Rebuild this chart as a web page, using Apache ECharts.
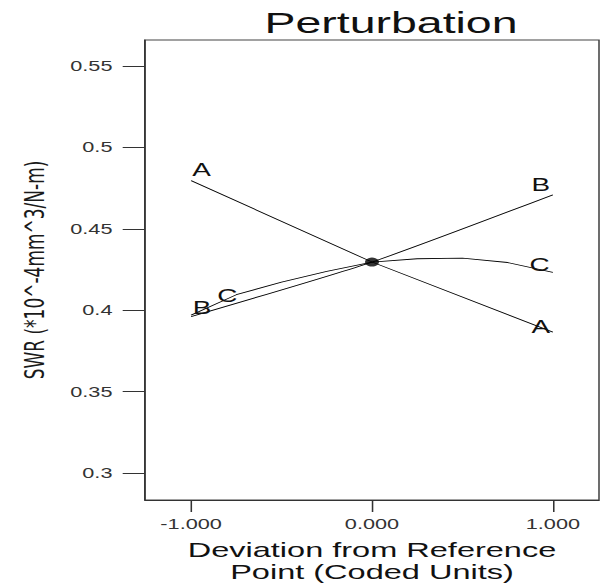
<!DOCTYPE html>
<html>
<head>
<meta charset="utf-8">
<script src="https://cdn.jsdelivr.net/npm/echarts@6/dist/echarts.min.js"></script>
<style>
  html, body { margin: 0; padding: 0; background: #fff; overflow: hidden; }
  #chart { position: absolute; left: 0; top: 0; width: 388px; height: 584px;
           transform: scaleX(1.549); transform-origin: 0 0; }
</style>
</head>
<body>
<div id="chart"></div>
<script>
// ---- data ----
const xA = [-1, 0, 1];
const yA = [0.4796, 0.4296, 0.3865];
const xB = [-1, 0, 1];
const yB = [0.3961, 0.4296, 0.4709];
const xC = [-1, -0.75, -0.5, -0.25, 0, 0.25, 0.5, 0.75, 1];
const yC = [0.397, 0.4095, 0.4173, 0.4238, 0.4296, 0.4316, 0.432, 0.4293, 0.4232];
const refPoint = [0, 0.4296];
const xTicks = [-1, 0, 1];
const xTickLabels = ['-1.000', '0.000', '1.000'];
const yTicks = [0.3, 0.35, 0.4, 0.45, 0.5, 0.55];
const yTickLabels = ['0.3', '0.35', '0.4', '0.45', '0.5', '0.55'];
const titleText = 'Perturbation';
const xName = 'Deviation from Reference\nPoint (Coded Units)';
const yName = 'SWR (*10^-4mm^3/N-m)';

const FONT = '"Liberation Sans", Arial, sans-serif';

function labelAt(name, offset) {
  return {
    show: true, formatter: name, position: 'inside', offset: offset,
    color: '#111', fontSize: 18, fontFamily: FONT, align: 'center', verticalAlign: 'middle'
  };
}

function buildData(xs, ys, name, firstOff, lastOff) {
  return xs.map((x, i) => {
    const item = { value: [x, ys[i]] };
    if (i === 0) item.label = labelAt(name, firstOff);
    if (i === xs.length - 1) item.label = labelAt(name, lastOff);
    return item;
  });
}

function lineSeries(name, data, smooth) {
  return {
    name: name, type: 'line', data: data, smooth: smooth,
    symbol: 'circle', symbolSize: 0.01, showSymbol: true,
    lineStyle: { color: '#000', width: 0.8 },
    itemStyle: { color: '#000' },
    emphasis: { disabled: true },
    z: 3
  };
}

const chart = echarts.init(document.getElementById('chart'), null, { renderer: 'svg' });

chart.setOption({
  animation: false,
  backgroundColor: '#fff',
  title: {
    text: titleText, left: 170.7, top: 8, padding: 0,
    textStyle: { fontFamily: FONT, fontSize: 30, fontWeight: 'normal', color: '#111' }
  },
  grid: {
    left: 93.6, right: 1.3, top: 40, bottom: 84,
    outerBoundsMode: 'none', containLabel: false,
    show: true, borderColor: '#444', borderWidth: 1, backgroundColor: 'transparent'
  },
  xAxis: {
    type: 'value', min: -1.255, max: 1.255,
    name: xName, nameLocation: 'middle', nameGap: 39,
    nameTextStyle: { fontFamily: FONT, fontSize: 21, fontWeight: 'normal', color: '#111', lineHeight: 22 },
    axisLine: { show: true, onZero: false, lineStyle: { color: '#333', width: 1 } },
    axisTick: { show: true, inside: false, length: 12, customValues: xTicks, lineStyle: { color: '#333', width: 1 } },
    axisLabel: {
      show: true, customValues: xTicks, margin: 17,
      formatter: v => xTickLabels[xTicks.indexOf(v)],
      fontFamily: FONT, fontSize: 14, color: '#333'
    },
    splitLine: { show: false }
  },
  yAxis: {
    type: 'value', min: 0.2834, max: 0.566,
    name: yName, nameLocation: 'middle', nameGap: 63, nameRotate: 90,
    nameTextStyle: { fontFamily: '"DejaVu Sans", sans-serif', fontSize: 17, color: '#1a1a1a' },
    axisLine: { show: true, onZero: false, lineStyle: { color: '#333', width: 1 } },
    axisTick: { show: true, inside: false, length: 14.4, customValues: yTicks, lineStyle: { color: '#333', width: 1 } },
    axisLabel: {
      show: true, customValues: yTicks, margin: 21,
      formatter: v => yTickLabels[yTicks.findIndex(t => Math.abs(t - v) < 1e-9)],
      fontFamily: FONT, fontSize: 14, color: '#333'
    },
    splitLine: { show: false }
  },
  series: [
    lineSeries('A', buildData(xA, yA, 'A', [6.8, -11], [-7.8, -5]), false),
    lineSeries('B', buildData(xB, yB, 'B', [7, -9], [-7.8, -9.5]), 0.2),
    lineSeries('C', buildData(xC, yC, 'C', [23.4, -19], [-8.6, -8]), false),
    {
      name: 'Reference', type: 'scatter', data: [refPoint],
      symbol: 'circle', symbolSize: 9, itemStyle: { color: '#000' },
      emphasis: { disabled: true }, z: 5
    }
  ]
});
</script>
</body>
</html>
